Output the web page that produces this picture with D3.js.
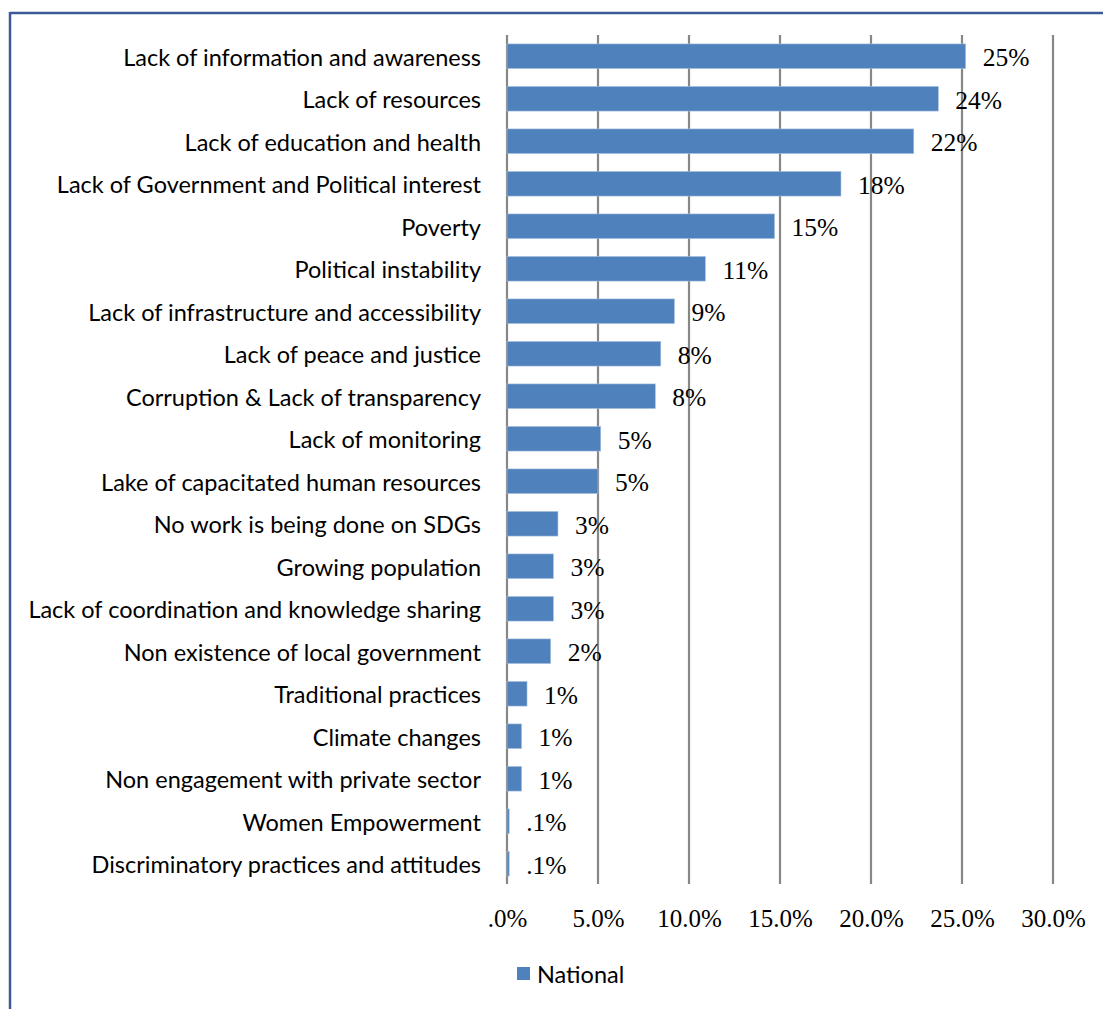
<!DOCTYPE html>
<html>
<head>
<meta charset="utf-8">
<script src="https://cdn.jsdelivr.net/npm/d3@7"></script>
<style>
  html, body { margin: 0; padding: 0; background: #fff; }
  svg { display: block; }
</style>
</head>
<body>
<svg id="chart" width="1103" height="1009"></svg>
<script>
const categories = [
  "Lack of information and awareness",
  "Lack of resources",
  "Lack of education and health",
  "Lack of Government and Political interest",
  "Poverty",
  "Political instability",
  "Lack of infrastructure and accessibility",
  "Lack of peace and justice",
  "Corruption & Lack of transparency",
  "Lack of monitoring",
  "Lake of capacitated human resources",
  "No work is being done on SDGs",
  "Growing population",
  "Lack of coordination and knowledge sharing",
  "Non existence of local government",
  "Traditional practices",
  "Climate changes",
  "Non engagement with private sector",
  "Women Empowerment",
  "Discriminatory practices and attitudes"
];
const nationalValues = [25.2, 23.7, 22.35, 18.35, 14.7, 10.9, 9.2, 8.45, 8.15, 5.15, 5.0, 2.8, 2.55, 2.55, 2.4, 1.1, 0.8, 0.8, 0.12, 0.12];
const valueLabels = ["25%", "24%", "22%", "18%", "15%", "11%", "9%", "8%", "8%", "5%", "5%", "3%", "3%", "3%", "2%", "1%", "1%", "1%", ".1%", ".1%"];
const tickValues = [0, 5, 10, 15, 20, 25, 30];
const tickLabels = [".0%", "5.0%", "10.0%", "15.0%", "20.0%", "25.0%", "30.0%"];
const seriesName = "National";

const svg = d3.select("#chart");
const barColor = "#4f81bd";
const gridColor = "#878787";
const sansFont = "Lato, 'Open Sans', sans-serif";
const serifFont = "'Liberation Serif', 'Times New Roman', serif";

// frame
svg.append("line").attr("x1", 10).attr("x2", 1103).attr("y1", 13).attr("y2", 13)
  .attr("stroke", "#3c5a9a").attr("stroke-width", 2.5);
svg.append("line").attr("x1", 10).attr("x2", 10).attr("y1", 12).attr("y2", 1009)
  .attr("stroke", "#3c5a9a").attr("stroke-width", 2.5);

const x = d3.scaleLinear().domain([0, 30]).range([507, 1053]);
const y = d3.scaleBand().domain(categories).range([35, 885]).paddingInner(0.42).paddingOuter(0.21);

// tick labels
const xAxis = d3.axisBottom(x).tickValues(tickValues)
  .tickFormat((d, i) => tickLabels[i]).tickSize(0).tickPadding(0);
const gAxis = svg.append("g").attr("transform", "translate(0,918)").call(xAxis);
gAxis.select(".domain").remove();
gAxis.selectAll("text")
  .attr("dy", "0.35em").attr("y", 0)
  .attr("font-family", serifFont).attr("font-size", 25).attr("fill", "#000");

// gridlines
svg.append("g").selectAll("line").data(tickValues).join("line")
  .attr("x1", d => x(d)).attr("x2", d => x(d))
  .attr("y1", 35).attr("y2", 884)
  .attr("stroke", gridColor).attr("stroke-width", 2.2);

// bars
svg.append("g").selectAll("rect").data(nationalValues).join("rect")
  .attr("x", x(0))
  .attr("y", (d, i) => y(categories[i]))
  .attr("width", d => x(d) - x(0))
  .attr("height", y.bandwidth())
  .attr("fill", barColor)
  .attr("stroke", "#a9c2e0").attr("stroke-width", 0.6);

// category labels
const yAxis = d3.axisLeft(y).tickSize(0).tickPadding(0);
const gY = svg.append("g").attr("transform", "translate(481,2)").call(yAxis);
gY.select(".domain").remove();
gY.selectAll("text")
  .attr("font-family", sansFont).attr("font-size", 23.5).attr("fill", "#000");

// value labels
svg.append("g").selectAll("text").data(nationalValues).join("text")
  .attr("x", d => x(d) + 17)
  .attr("y", (d, i) => y(categories[i]) + y.bandwidth() / 2 + 1)
  .attr("dy", "0.35em")
  .attr("font-family", serifFont).attr("font-size", 25.5).attr("fill", "#000")
  .text((d, i) => valueLabels[i]);

// legend
svg.append("rect").attr("x", 517).attr("y", 967).attr("width", 13).attr("height", 13).attr("fill", barColor);
svg.append("text").attr("x", 537).attr("y", 975).attr("dy", "0.35em")
  .attr("font-family", sansFont).attr("font-size", 23.5).attr("fill", "#000").text(seriesName);
</script>
</body>
</html>
